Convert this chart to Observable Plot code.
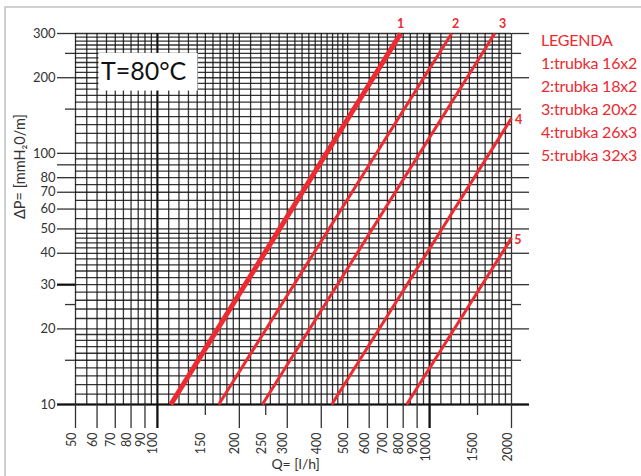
<!DOCTYPE html>
<html><head><meta charset="utf-8">
<script src="https://cdn.jsdelivr.net/npm/d3@7"></script>
<script src="https://cdn.jsdelivr.net/npm/@observablehq/plot@0.6"></script>
<style>
body{margin:0;background:#fff;}
#wrap{position:relative;width:641px;height:476px;overflow:hidden;background:#fff;}
#frame{position:absolute;left:4px;top:6px;width:700px;height:600px;border-left:2px solid #d0d0d0;border-top:2px solid #d0d0d0;pointer-events:none;}
#chart{position:absolute;left:0;top:0;}
#legend{position:absolute;left:541px;top:28px;color:#ec2a30;font-family:Lato,sans-serif;font-size:16px;line-height:23px;white-space:nowrap;letter-spacing:-0.2px;}
</style></head><body>
<div id="wrap"><div id="chart"></div><div id="frame"></div><div id="legend"></div></div>
<script>
// Series: pipe curves, start/end points
const lineIds = ["1", "2", "3", "4", "5"];
const qStart = [112, 168, 243, 437, 824];
const pStart = [10, 10, 10, 10, 10];
const qEnd = [783, 1205, 1735, 2000, 2000];
const pEnd = [300, 300, 300, 138, 46];
// curve number labels
const labelQ = [783, 1246, 1855, 2126, 2110];
const labelP = [328, 328, 328, 136, 45];

// Legend
const legendTitle = "LEGENDA";
const legendItems = ["1:trubka 16x2", "2:trubka 18x2", "3:trubka 20x2", "4:trubka 26x3", "5:trubka 32x3"];

// Axis ticks
const qTickLabels = [50, 60, 70, 80, 90, 100, 150, 200, 250, 300, 400, 500, 600, 700, 800, 900, 1000, 1500, 2000];
const qLongTicks = [50, 60, 70, 80, 90, 100, 200, 300, 400, 500, 600, 700, 800, 900, 1000, 2000];
const qShortTicks = [150, 250, 1500];
const pTickLabels = [10, 20, 30, 40, 50, 60, 70, 80, 90, 100, 200, 300];
const pShortTicks = [15, 25, 150, 250];

// Grid lines
const gridQ = [50,55,60,65,70,75,80,85,90,95,100,110,120,130,140,150,160,170,180,190,200,220,240,260,280,300,320,340,360,380,400,420,440,460,480,500,550,600,650,700,750,800,850,900,950,1000,1100,1200,1300,1400,1500,1600,1700,1800,1900,2000];
const gridP = [10,11,12,13,14,15,16,17,18,19,20,22,24,26,28,30,32,34,36,38,40,42,44,46,48,50,55,60,65,70,75,80,85,90,95,100,110,120,130,140,150,160,170,180,190,200,210,220,230,240,250,260,270,280,290,300];
const heavyQ = [100, 1000];
const heavyP = [10];

const red = "#ec2a30";
const curves = lineIds.flatMap((id, i) => [
  {id, q: qStart[i], p: pStart[i]},
  {id, q: qEnd[i], p: pEnd[i]}
]);
const labels = lineIds.map((id, i) => ({id, q: labelQ[i], p: labelP[i]}));
const tickStyle = {stroke: "#333", strokeWidth: 1.3, tickFormat: () => "", label: null};

const chart = Plot.plot({
  width: 641, height: 476,
  marginLeft: 75, marginRight: 130, marginTop: 33, marginBottom: 72,
  x: {type: "log", domain: [50, 2000]},
  y: {type: "log", domain: [10, 300]},
  style: {background: "transparent", fontFamily: "Lato, sans-serif", fontSize: "13px", color: "#333", overflow: "visible"},
  marks: [
    Plot.ruleX(gridQ, {y1: 10, y2: 300, stroke: "#111", strokeWidth: 1.3, strokeOpacity: 0.85}),
    Plot.ruleY(gridP, {x1: 50, x2: 2000, stroke: "#111", strokeWidth: 1.3, strokeOpacity: 0.85}),
    Plot.ruleX(heavyQ, {y1: 10, y2: 300, stroke: "#111", strokeWidth: 2}),
    Plot.ruleY(heavyP, {x1: 50, x2: 2000, stroke: "#111", strokeWidth: 2.2}),
    Plot.rect([0], {x1: 61, x2: 141, y1: 177, y2: 250, fill: "white"}),
    Plot.text(["T=80°C"], {x: 89, y: 211, text: d => d, fontSize: 25, fill: "#111"}),
    Plot.axisY(pTickLabels, {tickSize: 18, tickPadding: 2, stroke: "#333", strokeWidth: 1.3, tickFormat: d => String(d), label: null, fontSize: 13}),
    Plot.axisY(pShortTicks, {...tickStyle, tickSize: 10}),
    Plot.axisY(pTickLabels, {...tickStyle, anchor: "right", tickSize: 17}),
    Plot.axisY(pShortTicks, {...tickStyle, anchor: "right", tickSize: 9}),
    Plot.axisY([10, 30], {...tickStyle, tickSize: 18, stroke: "#111", strokeWidth: 2.2}),
    Plot.axisY([10], {...tickStyle, anchor: "right", tickSize: 17, stroke: "#111", strokeWidth: 2.2}),
    Plot.axisX(qLongTicks, {...tickStyle, tickSize: 24}),
    Plot.axisX(qShortTicks, {...tickStyle, tickSize: 11}),
    Plot.axisX(heavyQ, {...tickStyle, tickSize: 24, stroke: "#111", strokeWidth: 2.2}),
    Plot.text(qTickLabels, {x: d => d, text: d => String(d), frameAnchor: "bottom", dy: 28, rotate: -90, textAnchor: "end", fill: "#333", fontSize: 12.5}),
    Plot.text(["ΔP= [mmH₂0/m]"], {frameAnchor: "left", dx: -55, rotate: -90, fontSize: 14.5, fill: "#333"}),
    Plot.text(["Q= [l/h]"], {x: 322, frameAnchor: "bottom", dy: 64, fontSize: 14, fill: "#333"}),
    Plot.line(curves.filter(d => d.id === "1"), {x: "q", y: "p", z: "id", stroke: red, strokeWidth: 5, strokeLinecap: "butt"}),
    Plot.line(curves.filter(d => d.id !== "1"), {x: "q", y: "p", z: "id", stroke: red, strokeWidth: 3, strokeLinecap: "butt"}),
    Plot.text(labels, {x: "q", y: "p", text: "id", fill: red, fontWeight: "bold", fontSize: 12.5})
  ]
});
document.getElementById("chart").appendChild(chart);

const lg = document.getElementById("legend");
[legendTitle, ...legendItems].forEach(t => {
  const div = document.createElement("div");
  div.textContent = t;
  lg.appendChild(div);
});
</script>
</body></html>
